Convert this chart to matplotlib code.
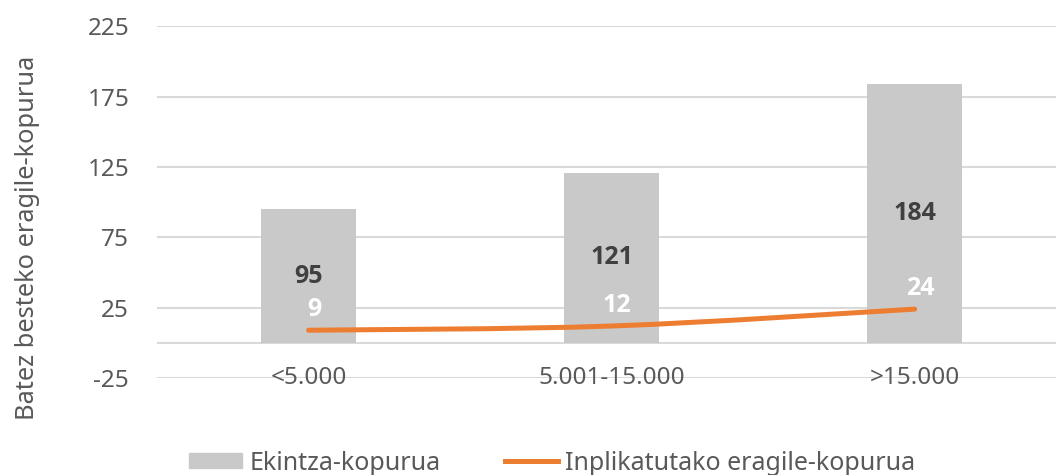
import numpy as np
import matplotlib.pyplot as plt
from matplotlib.path import Path
from matplotlib.patches import PathPatch, Patch
from matplotlib.lines import Line2D

categories = ['<5.000', '5.001-15.000', '>15.000']
ekintzak = [95, 121, 184]
eragileak = [9, 12, 24]
yticks = [-25, 25, 75, 125, 175, 225]

plt.rcParams['font.family'] = ['Noto Sans', 'DejaVu Sans']
bold_font = ['Open Sans', 'DejaVu Sans']

gray = '#C9C9C9'
orange = '#ED7D31'
txt = '#595959'

fig = plt.figure(figsize=(10.56, 4.75), dpi=100)
ax = fig.add_axes([0.1487, 0.204, 0.861, 0.741])
ax.set_xlim(-0.5, 2.5)
ax.set_ylim(-25, 225)

x = np.arange(len(categories))
ax.bar(x, ekintzak, width=0.315, color=gray, zorder=2)

# smooth line (catmull-rom like excel)
pts = np.column_stack([x, eragileak]).astype(float)
verts = [pts[0]]
codes = [Path.MOVETO]
for i in range(len(pts) - 1):
    p0 = pts[max(i - 1, 0)]
    p1 = pts[i]
    p2 = pts[i + 1]
    p3 = pts[min(i + 2, len(pts) - 1)]
    verts += [p1 + (p2 - p0) / 6, p2 - (p3 - p1) / 6, p2]
    codes += [Path.CURVE4] * 3
ax.add_patch(PathPatch(Path(verts, codes), fill=False, edgecolor=orange,
                       lw=3.6, capstyle='round', zorder=3))

for xi, v in zip(x, ekintzak):
    ax.text(xi, v / 2, str(v), ha='center', va='center', fontsize=18,
            fontweight='bold', family=bold_font, color='#404040', zorder=4)
for xi, v in zip(x, eragileak):
    ax.annotate(str(v), (xi, v), xytext=(4, 6), textcoords='offset points',
                ha='center', va='bottom', fontsize=18, fontweight='bold',
                family=bold_font, color='white', zorder=4)

for xi, c in zip(x, categories):
    ax.text(xi, -25, c, ha='center', va='center', fontsize=17.5, color=txt,
            zorder=1)

ax.set_yticks(yticks)
ax.set_yticklabels([str(t) for t in yticks], fontsize=17.5, color=txt)
ax.axhline(0, color='#D9D9D9', lw=1.5, zorder=1)
ax.grid(axis='y', color='#D9D9D9', lw=1.5, zorder=0)
ax.set_axisbelow(True)
ax.set_xticks([])
ax.tick_params(axis='y', length=0, pad=20)
for s in ax.spines.values():
    s.set_visible(False)

fig.text(0.0265, 0.5, 'Batez besteko eragile-kopurua', rotation=90,
         ha='center', va='center', fontsize=18.3, color=txt)

handles = [Patch(color=gray), Line2D([], [], color=orange, lw=3.6)]
fig.legend(handles, ['Ekintza-kopurua', 'Inplikatutako eragile-kopurua'],
           loc='center', bbox_to_anchor=(0.523, 0.025), ncol=2, frameon=False,
           fontsize=18, labelcolor=txt, handlelength=2.1, handletextpad=0.3,
           columnspacing=2.6, handleheight=0.55)

fig.savefig('out.png', dpi=100)
